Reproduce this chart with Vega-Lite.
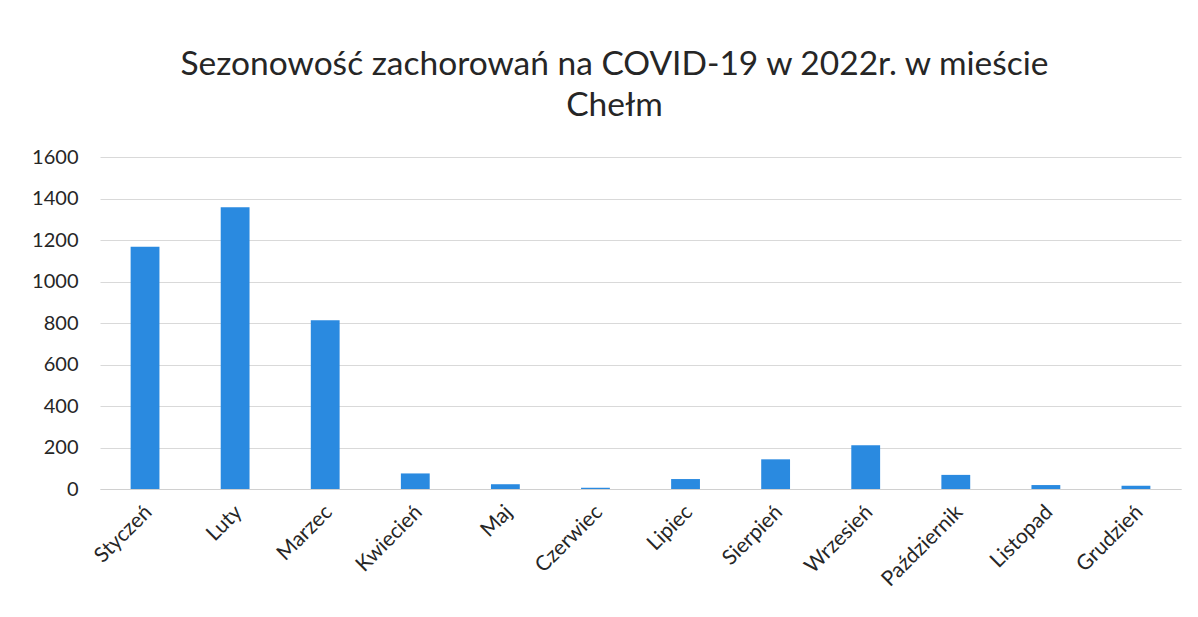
{
  "$schema": "https://vega.github.io/schema/vega-lite/v6.json",
  "width": 1081,
  "height": 332,
  "autosize": {"type": "none"},
  "padding": {"left": 100, "top": 157, "right": 17, "bottom": 128},
  "background": "white",
  "title": {
    "text": ["Sezonowość zachorowań na COVID-19 w 2022r. w mieście", "Chełm"],
    "font": "Lato",
    "fontSize": 33.5,
    "fontWeight": "normal",
    "color": "#262626",
    "lineHeight": 41,
    "anchor": "middle",
    "frame": "group",
    "dx": -26,
    "offset": 24
  },
  "data": {
    "values": [
      {"miesiac": "Styczeń", "zachorowania": 1168},
      {"miesiac": "Luty", "zachorowania": 1358},
      {"miesiac": "Marzec", "zachorowania": 813},
      {"miesiac": "Kwiecień", "zachorowania": 75},
      {"miesiac": "Maj", "zachorowania": 23},
      {"miesiac": "Czerwiec", "zachorowania": 6},
      {"miesiac": "Lipiec", "zachorowania": 48},
      {"miesiac": "Sierpień", "zachorowania": 143},
      {"miesiac": "Wrzesień", "zachorowania": 211},
      {"miesiac": "Październik", "zachorowania": 68},
      {"miesiac": "Listopad", "zachorowania": 19},
      {"miesiac": "Grudzień", "zachorowania": 16}
    ]
  },
  "mark": {"type": "bar", "color": "#2a8ae0"},
  "encoding": {
    "x": {
      "field": "miesiac",
      "type": "nominal",
      "sort": null,
      "scale": {"paddingInner": 0.68, "paddingOuter": 0.34},
      "axis": {
        "title": null,
        "labelAngle": -45,
        "labelFont": "Lato",
        "labelFontSize": 21,
        "labelColor": "#262626",
        "ticks": false,
        "domainColor": "#d0d0d0",
        "labelPadding": 12,
        "labelOffset": -4
      }
    },
    "y": {
      "field": "zachorowania",
      "type": "quantitative",
      "scale": {"domain": [0, 1600]},
      "axis": {
        "title": null,
        "values": [0, 200, 400, 600, 800, 1000, 1200, 1400, 1600],
        "format": "d",
        "labelFont": "Lato",
        "labelFontSize": 20,
        "labelColor": "#262626",
        "ticks": false,
        "domain": false,
        "gridColor": "#d9d9d9",
        "labelPadding": 22
      }
    }
  },
  "config": {"view": {"stroke": null}}
}
